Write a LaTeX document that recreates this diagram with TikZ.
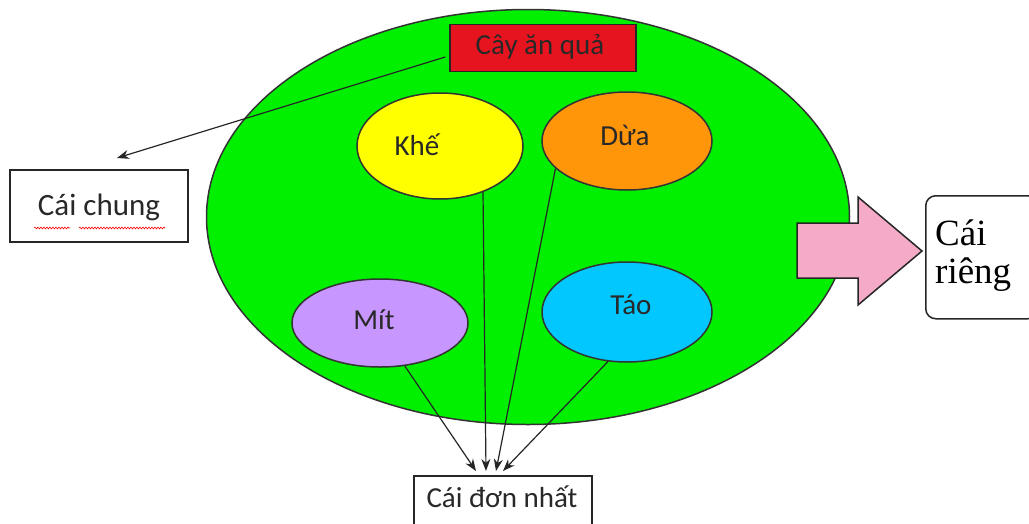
\documentclass[tikz,border=0pt]{standalone}
\usepackage{fontspec}
\setmainfont{Carlito}
\newfontfamily\serifTimes{Liberation Serif}
\usetikzlibrary{shapes.geometric,arrows.meta,decorations.pathmorphing}
\definecolor{biggreen}{RGB}{0,240,0}
\definecolor{redbox}{RGB}{230,20,30}
\definecolor{khe}{RGB}{255,255,0}
\definecolor{dua}{RGB}{255,150,10}
\definecolor{mit}{RGB}{200,150,255}
\definecolor{tao}{RGB}{0,200,255}
\definecolor{pinkarrow}{RGB}{245,170,200}
\definecolor{txt}{RGB}{40,40,40}
\tikzset{
  fruit/.style={ellipse, draw=black!80, line width=1.5pt, inner sep=0pt},
  lbl/.style={font=\fontsize{29}{31}\selectfont, text=txt, inner sep=0pt},
  labelbox/.style={rectangle, draw=black!85, line width=1.5pt, fill=white, inner sep=0pt, font=\fontsize{29}{31}\selectfont, text=txt},
  conn/.style={draw=black!85, line width=1.2pt, -{Stealth[length=12pt,width=9pt]}}
}
\begin{document}
\begin{tikzpicture}[x=1pt,y=-1pt]
\useasboundingbox (0,0) rectangle (1029,523);
\fill[white] (0,0) rectangle (1029,523);
% big ellipse
\node[ellipse, draw=black!80, line width=1.5pt, fill=biggreen, minimum width=643pt, minimum height=415pt, inner sep=0pt] (big) at (528,217) {};
% title
\node[labelbox, fill=redbox, minimum width=186pt, minimum height=47pt] (red) at (543,48) {};
\node[lbl] (redtext) at (540,47) {Cây ăn quả};
% fruits
\node[fruit, fill=khe, minimum width=166pt, minimum height=106pt] (khe) at (440,146) {};
\node[lbl] (khetext) at (417,145) {Khế};
\node[fruit, fill=dua, minimum width=170pt, minimum height=98pt] (dua) at (627,141) {};
\node[lbl] (duatext) at (625,135) {Dừa};
\node[fruit, fill=mit, minimum width=176pt, minimum height=88pt] (mit) at (380,323) {};
\node[lbl] (mittext) at (374,320) {Mít};
\node[fruit, fill=tao, minimum width=170pt, minimum height=100pt] (tao) at (627,312) {};
\node[lbl] (taotext) at (631,305) {Táo};
% boxes
\node[labelbox, minimum width=178pt, minimum height=72pt] (chung) at (99,206) {};
\node[lbl, font=\fontsize{31}{33}\selectfont] (chungtext) at (99,207) {Cái chung};
\draw[red, line width=0.6pt, decorate, decoration={snake, amplitude=0.9pt, segment length=3pt}] (34,228) -- (70,228);
\draw[red, line width=0.6pt, decorate, decoration={snake, amplitude=0.9pt, segment length=3pt}] (79,228) -- (165,228);
\node[labelbox, minimum width=178pt, minimum height=56pt, anchor=north west] (don) at (413,475) {};
\node[lbl] (dontext) at (502,497) {Cái đơn nhất};
\node[rectangle, rounded corners=10pt, draw=black!85, line width=1.5pt, fill=white, minimum width=112pt, minimum height=123pt, anchor=north west] (rieng) at (925,195) {};
\node[font=\serifTimes\fontsize{37}{40}\selectfont, text=black, align=left, anchor=north west, inner sep=0pt] (riengtext) at (935,220) {Cái\\[-2pt]riêng};
% pink arrow
\draw[black!85, line width=1.5pt, fill=pinkarrow] (797,223) -- (858,223) -- (858,197) -- (922,251) -- (858,305) -- (858,278) -- (797,278) -- cycle;
% connectors
\coordinate (cc) at (117,158);
\draw[conn] ([yshift=-9pt,xshift=-4pt]red.west) -- (cc);
\coordinate (d1) at (476,471);
\coordinate (d2) at (486,471);
\coordinate (d3) at (496,471);
\coordinate (d4) at (503,471);
\draw[conn] (mit.-60) -- (d1);
\draw[conn] (khe.-47) -- (d2);
\draw[conn] (dua.-159) -- (d3);
\draw[conn] (tao.-111) -- (d4);
\end{tikzpicture}
\end{document}
